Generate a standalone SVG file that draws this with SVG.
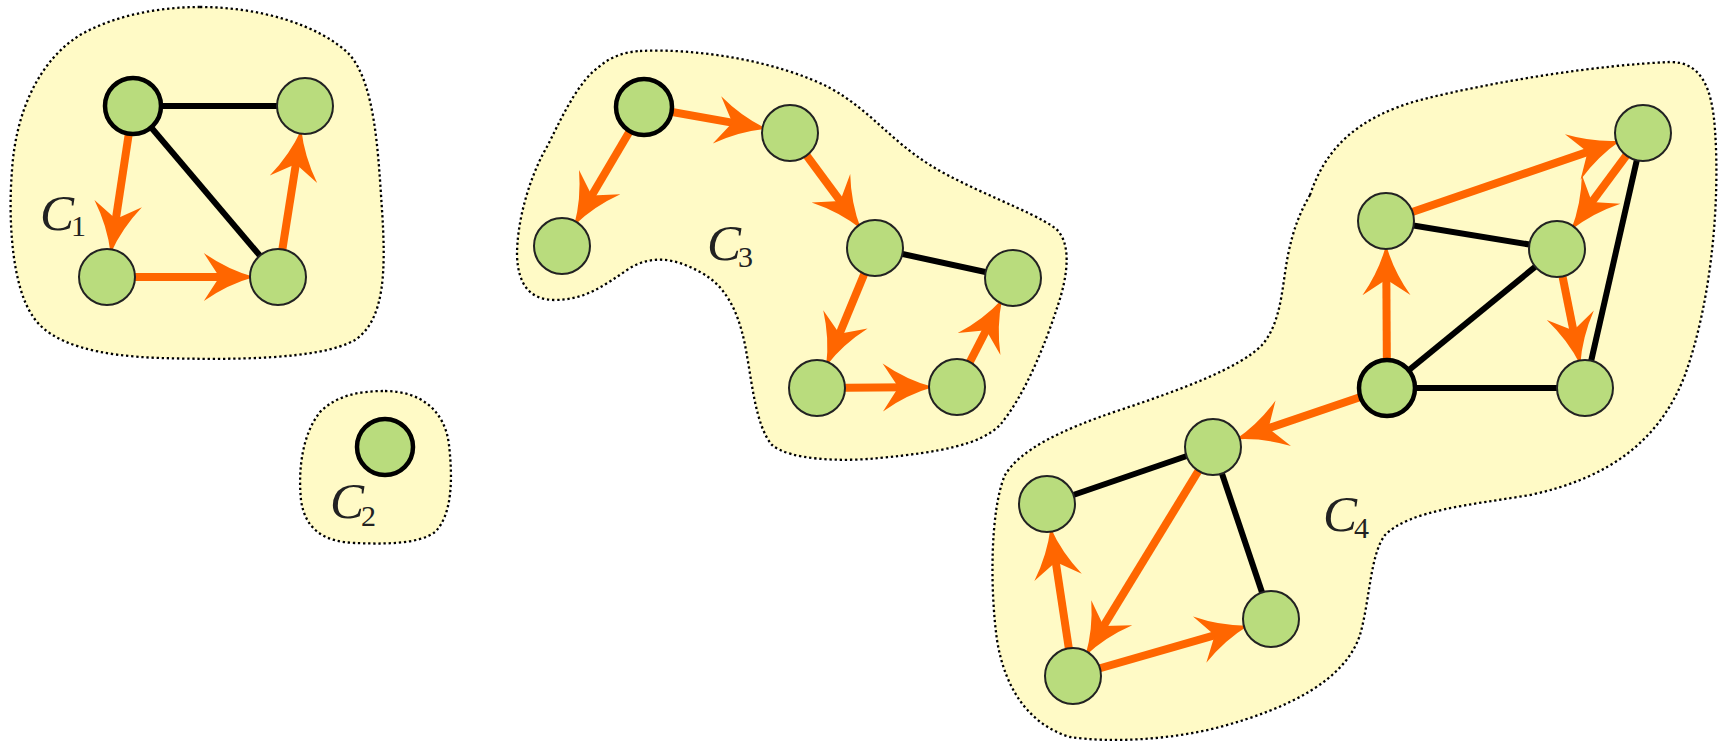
<svg xmlns="http://www.w3.org/2000/svg" width="1721" height="744" viewBox="0 0 1721 744">
<style>
.blob{fill:#FFFAC6;stroke:#000;stroke-width:2.3;stroke-dasharray:2.3 2.8}
.n{fill:#B9DC7D;stroke:#222;stroke-width:2}
.nb{fill:#B9DC7D;stroke:#000;stroke-width:4.5}
.e{stroke:#000;stroke-width:6;fill:none}
.a{stroke:#FF6600;stroke-width:8;fill:none;marker-end:url(#ah)}
.lbl{font-family:"Liberation Serif","Times New Roman",serif;font-style:italic;font-size:51px;fill:#222}
.sub{font-style:normal;font-size:30px}
</style>
<defs>
<marker id="ah" markerUnits="userSpaceOnUse" markerWidth="60" markerHeight="60" viewBox="-25 -25 50 50" refX="0" refY="0" orient="auto" overflow="visible">
<path d="M21,0 Q-1,-6 -21,-20 L-8,0 L-21,20 Q-1,6 21,0 Z" fill="#FF6600"/>
</marker>
</defs>
<g id="clusters">
<path id="blob-c1" class="blob" d="M200,7 C260,7 320,25 350,55 C375,85 378,150 382,210 C386,270 385,320 355,340 C320,360 230,360 160,358 C100,356 50,345 32,315 C12,285 8,220 12,170 C16,110 40,60 80,35 C115,15 160,7 200,7 Z"/>
<path id="blob-c2" class="blob" d="M385,391 C420,391 445,410 449,445 C453,480 452,515 435,532 C418,545 380,544 355,543 C325,542 305,530 301,500 C298,470 302,435 320,412 C337,395 360,391 385,391 Z"/>
<path id="blob-c3" class="blob" d="M640,51 C700,48 780,62 830,88 C870,110 890,140 930,165 C970,190 1030,210 1055,228 C1072,242 1068,275 1058,305 C1045,345 1025,395 1000,425 C980,445 940,452 880,458 C840,462 790,460 772,445 C755,425 752,380 745,345 C738,310 725,285 700,272 C675,258 652,255 630,268 C605,285 585,300 555,300 C530,300 518,285 517,255 C517,220 530,175 548,145 C565,110 580,80 600,66 C612,56 625,52 640,51 Z"/>
<path id="blob-c4" class="blob" d="M1310,195 C1325,150 1355,118 1420,100 C1500,80 1600,65 1670,62 C1700,62 1712,85 1715,130 C1720,200 1712,300 1685,375 C1660,440 1610,478 1530,495 C1470,505 1410,510 1385,535 C1370,555 1370,600 1360,635 C1345,680 1290,708 1220,727 C1170,740 1110,743 1070,737 C1030,725 1005,690 997,640 C990,590 990,510 1005,475 C1020,450 1060,430 1120,410 C1180,390 1240,368 1262,345 C1282,322 1282,285 1288,255 C1293,230 1300,212 1310,195 Z"/>
</g>
<g id="connectors">
<line class="e" x1="133" y1="106" x2="305" y2="106"/>
<line class="e" x1="133" y1="106" x2="278" y2="277"/>
<line class="a" x1="133" y1="106" x2="114.4" y2="228.6"/>
<line class="a" x1="107" y1="277" x2="229" y2="277"/>
<line class="a" x1="278" y1="277" x2="297.4" y2="154.4"/>
<line class="e" x1="875" y1="248" x2="1013" y2="278"/>
<line class="a" x1="644" y1="107" x2="741.8" y2="124.4"/>
<line class="a" x1="644" y1="107" x2="586.9" y2="203.8"/>
<line class="a" x1="790" y1="133" x2="845.9" y2="208.6"/>
<line class="a" x1="875" y1="248" x2="835.8" y2="342.7"/>
<line class="a" x1="817" y1="388" x2="908" y2="387.3"/>
<line class="a" x1="957" y1="387" x2="990.6" y2="321.6"/>
<line class="e" x1="1386" y1="221" x2="1557" y2="249"/>
<line class="e" x1="1387" y1="388" x2="1557" y2="249"/>
<line class="e" x1="1387" y1="388" x2="1585" y2="388"/>
<line class="e" x1="1643" y1="133" x2="1585" y2="388"/>
<line class="e" x1="1213" y1="447" x2="1047" y2="504"/>
<line class="e" x1="1213" y1="447" x2="1271" y2="619"/>
<line class="a" x1="1387" y1="388" x2="1386.3" y2="270"/>
<line class="a" x1="1386" y1="221" x2="1596.6" y2="148.9"/>
<line class="a" x1="1643" y1="133" x2="1586.2" y2="209.6"/>
<line class="a" x1="1557" y1="249" x2="1575.3" y2="340"/>
<line class="a" x1="1387" y1="388" x2="1259.4" y2="431.3"/>
<line class="a" x1="1213" y1="447" x2="1098.6" y2="634.2"/>
<line class="a" x1="1073" y1="676" x2="1054.3" y2="552.5"/>
<line class="a" x1="1073" y1="676" x2="1223.9" y2="632.6"/>
</g>
<g id="c1-a"><circle class="nb" cx="133" cy="106" r="28"/></g>
<g id="c1-b"><circle class="n" cx="305" cy="106" r="28"/></g>
<g id="c1-c"><circle class="n" cx="107" cy="277" r="28"/></g>
<g id="c1-d"><circle class="n" cx="278" cy="277" r="28"/></g>
<g id="c2-a"><circle class="nb" cx="385" cy="447" r="28"/></g>
<g id="c3-a"><circle class="nb" cx="644" cy="107" r="28"/></g>
<g id="c3-b"><circle class="n" cx="790" cy="133" r="28"/></g>
<g id="c3-c"><circle class="n" cx="562" cy="246" r="28"/></g>
<g id="c3-d"><circle class="n" cx="875" cy="248" r="28"/></g>
<g id="c3-e"><circle class="n" cx="1013" cy="278" r="28"/></g>
<g id="c3-f"><circle class="n" cx="817" cy="388" r="28"/></g>
<g id="c3-g"><circle class="n" cx="957" cy="387" r="28"/></g>
<g id="c4-a"><circle class="nb" cx="1387" cy="388" r="28"/></g>
<g id="c4-b"><circle class="n" cx="1386" cy="221" r="28"/></g>
<g id="c4-c"><circle class="n" cx="1557" cy="249" r="28"/></g>
<g id="c4-d"><circle class="n" cx="1643" cy="133" r="28"/></g>
<g id="c4-e"><circle class="n" cx="1585" cy="388" r="28"/></g>
<g id="c4-f"><circle class="n" cx="1213" cy="447" r="28"/></g>
<g id="c4-g"><circle class="n" cx="1047" cy="504" r="28"/></g>
<g id="c4-h"><circle class="n" cx="1271" cy="619" r="28"/></g>
<g id="c4-i"><circle class="n" cx="1073" cy="676" r="28"/></g>
<g id="labels">
<text class="lbl" x="40" y="230">C<tspan class="sub" dx="-3" dy="6">1</tspan></text>
<text class="lbl" x="330" y="518">C<tspan class="sub" dx="-3" dy="8">2</tspan></text>
<text class="lbl" x="707" y="260">C<tspan class="sub" dx="-3" dy="7">3</tspan></text>
<text class="lbl" x="1323" y="531">C<tspan class="sub" dx="-3" dy="7">4</tspan></text>
</g>
</svg>
